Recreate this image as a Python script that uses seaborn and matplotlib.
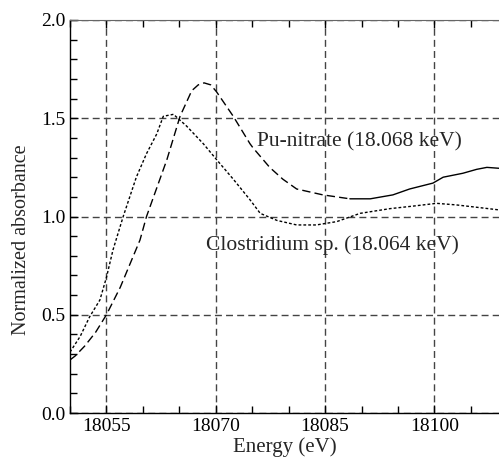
import numpy as np
import pandas as pd
import matplotlib
matplotlib.use('Agg')
import matplotlib.pyplot as plt
import seaborn as sns
from matplotlib.ticker import MultipleLocator, FormatStrFormatter

# Pu-nitrate XANES
pu_energy = [18050.0, 18050.7, 18052.0, 18053.5, 18055.0, 18056.9, 18059.6, 18060.5,
             18063.3, 18065.1, 18066.7, 18067.6, 18068.4, 18069.3, 18070.1, 18072.4,
             18074.7, 18075.1, 18077.4, 18079.2, 18081.1, 18084.7, 18088.4, 18091.2,
             18094.3, 18096.6, 18099.8, 18101.2, 18103.9, 18105.8, 18107.2, 18109.0]
pu_abs = [0.27, 0.29, 0.34, 0.41, 0.50, 0.64, 0.88, 1.00,
          1.29, 1.51, 1.64, 1.67, 1.68, 1.67, 1.635, 1.51,
          1.37, 1.35, 1.25, 1.19, 1.14, 1.11, 1.09, 1.09,
          1.11, 1.14, 1.17, 1.20, 1.22, 1.24, 1.25, 1.245]

# Clostridium sp.
cl_energy = [18050.0, 18051.4, 18052.7, 18054.1, 18055.0, 18055.9, 18057.3, 18059.1,
             18060.5, 18061.9, 18062.8, 18064.2, 18066.0, 18068.3, 18070.1, 18072.4,
             18074.7, 18076.1, 18078.4, 18081.1, 18083.8, 18086.6, 18089.8, 18093.9,
             18097.1, 18100.3, 18103.0, 18105.8, 18109.0]
cl_abs = [0.31, 0.39, 0.49, 0.575, 0.69, 0.83, 1.00, 1.20,
          1.32, 1.42, 1.51, 1.52, 1.46, 1.37, 1.29, 1.19,
          1.085, 1.016, 0.98, 0.957, 0.957, 0.974, 1.016, 1.04,
          1.053, 1.067, 1.059, 1.047, 1.033]

# the Pu trace turns from dashed to solid here
PU_SOLID_FROM = 18088.4

sns.set_style('ticks')
plt.rcParams['font.family'] = ['Liberation Serif', 'DejaVu Serif']

fig = plt.figure(figsize=(4.99, 4.66), dpi=100)
ax = fig.add_axes([70 / 499, 53 / 466, 430 / 499, 393 / 466])

pu_df = pd.DataFrame({'energy': pu_energy, 'abs': pu_abs})
cl_df = pd.DataFrame({'energy': cl_energy, 'abs': cl_abs})
pu_dash = pu_df[pu_df.energy <= PU_SOLID_FROM]
pu_solid = pu_df[pu_df.energy >= PU_SOLID_FROM]

sns.lineplot(data=pu_dash, x='energy', y='abs', ax=ax, color='black', lw=1.0,
             sort=False, linestyle=(0, (6, 3)))
sns.lineplot(data=pu_solid, x='energy', y='abs', ax=ax, color='black', lw=1.0,
             sort=False)
sns.lineplot(data=cl_df, x='energy', y='abs', ax=ax, color='black', lw=1.0,
             sort=False, linestyle=(0, (2, 1.5)))

ax.set_xlim(18050, 18109)
ax.set_ylim(0, 2.0)
ax.set_xticks([18055, 18070, 18085, 18100])
ax.xaxis.set_minor_locator(MultipleLocator(5))
ax.yaxis.set_major_locator(MultipleLocator(0.5))
ax.yaxis.set_minor_locator(MultipleLocator(0.1))
ax.yaxis.set_major_formatter(FormatStrFormatter('%.1f'))
ax.tick_params(which='both', direction='in', top=True, right=False, labelsize=14,
               colors='black')
ax.tick_params(which='major', length=6, width=1)
ax.tick_params(which='minor', length=5, width=1)
ax.grid(True, which='major', linestyle=(0, (5, 3)), color='#444444', lw=1.0)

for side in ['left', 'bottom']:
    ax.spines[side].set_color('black')
    ax.spines[side].set_linewidth(1.0)
ax.spines['top'].set_color('#666666')
ax.spines['right'].set_visible(False)

ax.text(18075.7, 1.38, 'Pu-nitrate (18.068 keV)', fontsize=15.5, va='center', ha='left')
ax.text(18068.6, 0.855, 'Clostridium sp. (18.064 keV)', fontsize=15.5, va='center', ha='left')

ax.set_xlabel('Energy (eV)', fontsize=15, labelpad=2)
ax.set_ylabel('Normalized absorbance', fontsize=14.5)
ax.yaxis.set_label_coords(-0.09, 0.44)

fig.savefig('out.png', dpi=100)
